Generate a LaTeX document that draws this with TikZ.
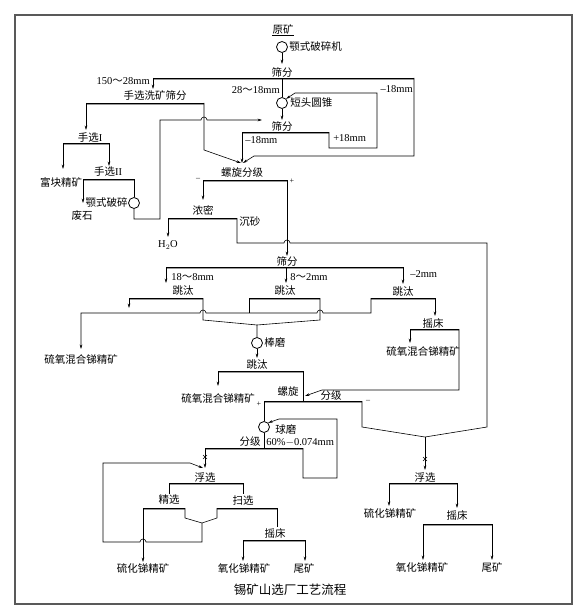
\documentclass[tikz,border=0pt]{standalone}
\usepackage{fontspec}
\setmainfont{Liberation Serif}
\newfontfamily\cjk{Noto Sans CJK SC}
\usetikzlibrary{arrows.meta}
\newcommand\scrbar[3]{\fill[black!40] (#1,#3) rectangle (#2,#3+2.2); \draw[line width=0.8pt] (#1,#3) -- (#2,#3);}
\begin{document}
\begin{tikzpicture}[x=1pt,y=-1pt, line width=0.6pt,
  arr/.style={-{Stealth[length=4.5pt,width=2.6pt]}},
  lbl/.style={inner sep=0pt, font=\cjk\fontsize{10.5}{12}\selectfont},
  en/.style={inner sep=0pt, font=\fontsize{10.5}{12}\selectfont},
  sg/.style={inner sep=0pt, font=\fontsize{8}{9}\selectfont},
  mill/.style={circle, draw, line width=0.8pt, minimum size=11pt, inner sep=0pt}]
\useasboundingbox (0,0) rectangle (585,615);
\draw[line width=1.4pt, black!65] (15,15) rectangle (572,604);

% ---- crushing
\node[lbl] (ore) at (283,29) {原矿};
\draw ([yshift=-1.5pt]ore.south west) -- ([yshift=-1.5pt]ore.south east);
\node[mill] (c1) at (282,47) {};
\node[lbl,anchor=west] (jaw) at (289,47) {颚式破碎机};
\node[lbl] (s1) at (282,72) {筛分};
\draw[arr] (c1) -- (282,64);
\scrbar{153}{414}{78}
\node[en,anchor=east] (l150) at (150,81) {150{\cjk ～}28mm};
\node[lbl] (hxs) at (155,96) {手选洗矿筛分};
\draw[arr] (153,78) -- (153,89);
\node[en,anchor=east] (l28) at (280,90) {28{\cjk ～}18mm};
\node[mill] (c2) at (282,103) {};
\node[lbl,anchor=west] (cone) at (290,103) {短头圆锥};
\draw (282,78) -- (c2);
\node[en,anchor=east] (l18a) at (413,89) {\textendash18mm};
\draw[arr] (414,78) -- (414,156) -- (254,156) -- (243,163);
\node[lbl] (s2) at (282,126) {筛分};
\draw[arr] (c2) -- (282,120);
\scrbar{242}{329}{132}
\node[en,anchor=west] (l18b) at (245,140) {\textendash18mm};
\node[en,anchor=west] (l18c) at (333,138) {+18mm};
\draw[arr] (329,132) -- (329,148) -- (377,148) -- (377,93) -- (295,93) -- (c2.north east);
\draw[arr] (242,132) -- (242,163);

% ---- hand sorting
\scrbar{86}{204}{103}
\draw[arr] (204,103) -- (204,150) -- (241,163);
\node[lbl] (hs1) at (90,138) {手选{\rmfamily I}};
\draw[arr] (86,103) -- (86,130);
\scrbar{63}{109}{143}
\node[lbl] (fk) at (61,182) {富块精矿};
\draw[arr] (63,143) -- (63,169);
\node[lbl] (hs2) at (108,172) {手选{\rmfamily II}};
\draw[arr] (109,143) -- (109,166);
\scrbar{83}{134}{179}
\node[mill] (c5) at (134,203) {};
\draw (134,179) -- (c5);
\node[lbl,anchor=east] (jaw2) at (128,203) {颚式破碎};
\node[lbl] (fs) at (82,216) {废石};
\draw[arr] (83,179) -- (83,203);
\draw[arr] (c5) -- (134,219) -- (160,219) -- (160,120) -- (201,120)
  arc[start angle=180,end angle=0,radius=3pt] -- (262,120);

% ---- spiral classifier 1
\node[lbl] (lx1) at (242,173) {螺旋分级};
\scrbar{203}{287}{180}
\node[sg] at (198,179) {\textendash};
\node[sg] at (292,181) {+};
\draw[arr] (203,180) -- (203,200);
\node[lbl] (nm) at (203,210) {浓密};
\scrbar{168}{237}{218}
\draw[arr] (168,218) -- (168,237);
\node[en] (h2o) at (168,245) {H$_2$O};
\node[lbl,anchor=west] (cs) at (239,222) {沉砂};
\draw (237,218) -- (237,243) -- (284,243) arc[start angle=180,end angle=0,radius=3pt]
  -- (487,243) -- (487,427) -- (425,437);
\draw[arr] (287,180) -- (287,256);
\node[lbl] (s3) at (287,261) {筛分};

% ---- jigs
\scrbar{166}{403}{267}
\draw[arr] (166,267) -- (166,283);
\draw[arr] (286,267) -- (286,283);
\draw[arr] (403,267) -- (403,284);
\node[en,anchor=west] at (171,277) {18{\cjk ～}8mm};
\node[en,anchor=west] at (290,277) {8{\cjk ～}2mm};
\node[en,anchor=west] at (410,274) {\textendash2mm};
\node[lbl] (j1) at (183,291) {跳汰};
\node[lbl] (j2) at (285,291) {跳汰};
\node[lbl] (j3) at (403,292) {跳汰};
\scrbar{129}{203}{298}
\scrbar{249}{320}{298}
\scrbar{371}{435}{298}
\draw[arr] (129,298) -- (129,308);
\draw[arr] (371,298) -- (371,313) -- (323,313) arc[start angle=0,end angle=180,radius=3pt]
  -- (206,313) arc[start angle=0,end angle=180,radius=3pt] -- (81,313) -- (81,349);
\draw (249,298) -- (249,313);
\node[lbl] (sy1) at (81,359) {硫氧混合锑精矿};
\node[mill] (c3) at (257,343) {};
\draw (203,298) -- (203,320) -- (257,325) -- (c3);
\draw (320,298) -- (320,320) -- (257,325);
\node[lbl,anchor=west] (bm) at (264,343) {棒磨};
\draw[arr] (435,298) -- (435,316);
\node[lbl] (yc1) at (433,323) {摇床};
\scrbar{410}{459}{329}
\draw[arr] (410,329) -- (410,343);
\node[lbl] (sy2) at (423,351) {硫氧混合锑精矿};
\draw[arr] (459,329) -- (459,390) -- (322,390) -- (305,396);
\draw[arr] (c3) -- (257,358);
\node[lbl] (j4) at (257,365) {跳汰};
\scrbar{218}{303}{371}
\draw[arr] (218,371) -- (218,386);
\node[lbl] (sy3) at (218,398) {硫氧混合锑精矿};
\draw (303,371) -- (303,401);

% ---- spiral classifier 2 and ball mill
\node[lbl] (lx2) at (288,392) {螺旋};
\node[lbl] (fj2) at (331,396) {分级};
\scrbar{264}{362}{401}
\node[sg] at (259,404) {+};
\node[sg] at (368,401) {\textendash};
\node[mill] (c4) at (264,427) {};
\draw (264,401) -- (c4);
\node[lbl,anchor=west] (qm) at (275,430) {球磨};
\draw (c4) -- (264,448);
\node[lbl,anchor=east] (fj3) at (261,442) {分级};
\node[en,anchor=west] (pct) at (266,442) {60\%$-$0.074mm};
\scrbar{205}{303}{448}
\draw[arr] (303,448) -- (303,478) -- (337,478) -- (337,419) -- (279,419) -- (c4.north east);
\draw (362,401) -- (362,427) -- (425,437);

% ---- left flotation
\draw[arr] (205,448) -- (205,468);
\draw[line width=0.5pt] (203,455) -- (207,459) (207,455) -- (203,459);
\node[lbl] (fx1) at (205,478) {浮选};
\scrbar{169}{243}{483}
\draw (169,483) -- (169,494);
\draw (243,483) -- (243,494);
\node[lbl] (jx) at (169,500) {精选};
\node[lbl] (sx) at (243,501) {扫选};
\scrbar{143}{185}{508}
\scrbar{217}{277}{508}
\draw (185,508) -- (185,518) -- (202,523);
\draw (217,508) -- (217,518) -- (202,523);
\draw[arr] (202,523) -- (202,542) -- (146,542) arc[start angle=0,end angle=180,radius=3pt]
  -- (103,542) -- (103,463) -- (190,463) -- (203,468);
\draw[arr] (143,508) -- (143,562);
\node[lbl] (lh1) at (143,568) {硫化锑精矿};
\draw (277,508) -- (277,527);
\node[lbl] (yc2) at (275,533) {摇床};
\scrbar{243}{305}{540}
\draw[arr] (243,540) -- (243,561);
\draw[arr] (305,540) -- (305,561);
\node[lbl] (yh1) at (244,568) {氧化锑精矿};
\node[lbl] (wk1) at (304,568) {尾矿};

% ---- right flotation
\draw[arr] (425,437) -- (425,470);
\draw[line width=0.5pt] (423,457) -- (427,461) (427,457) -- (423,461);
\node[lbl] (fx2) at (425,478) {浮选};
\scrbar{389}{457}{483}
\draw[arr] (389,483) -- (389,506);
\draw[arr] (457,483) -- (457,508);
\node[lbl] (lh2) at (390,513) {硫化锑精矿};
\node[lbl] (yc3) at (457,515) {摇床};
\scrbar{423}{492}{524}
\draw[arr] (423,524) -- (423,560);
\draw[arr] (492,524) -- (492,560);
\node[lbl] (yh2) at (422,567) {氧化锑精矿};
\node[lbl] (wk2) at (492,567) {尾矿};

\node[inner sep=0pt, font=\cjk\fontsize{12.5}{14}\selectfont] (title) at (290,590) {锡矿山选厂工艺流程};
\end{tikzpicture}
\end{document}
